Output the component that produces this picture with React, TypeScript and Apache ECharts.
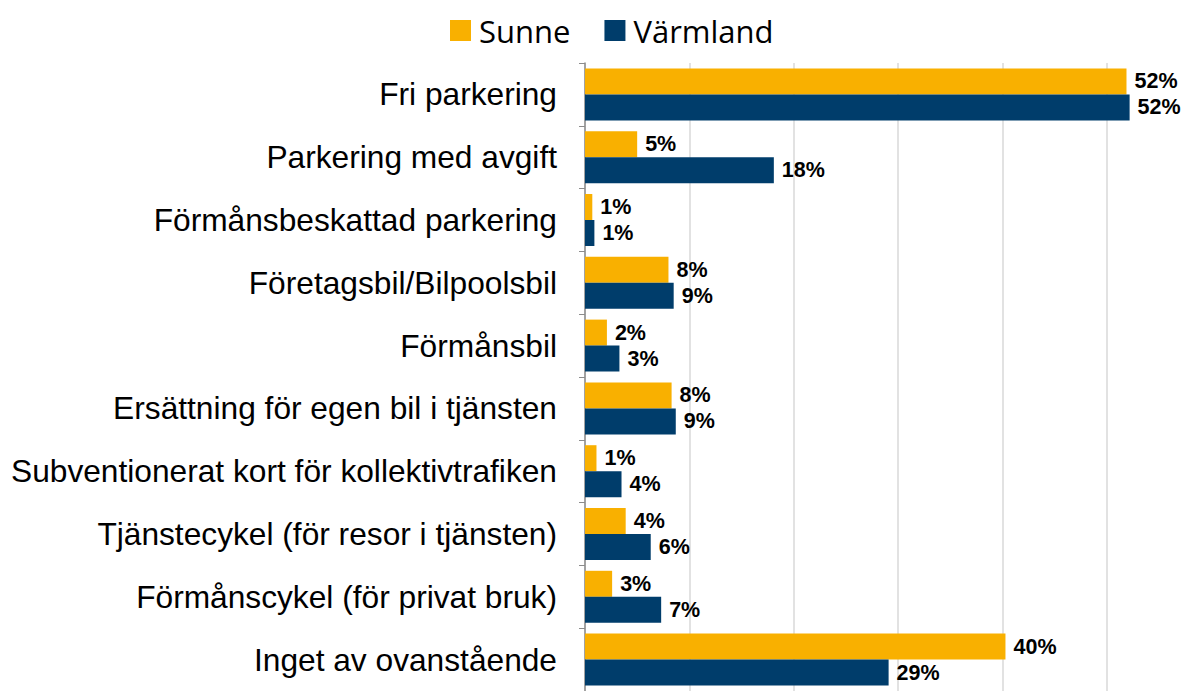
import React, { useEffect, useRef } from "react";
import * as echarts from "echarts";

const categories = [
  "Fri parkering",
  "Parkering med avgift",
  "Förmånsbeskattad parkering",
  "Företagsbil/Bilpoolsbil",
  "Förmånsbil",
  "Ersättning för egen bil i tjänsten",
  "Subventionerat kort för kollektivtrafiken",
  "Tjänstecykel (för resor i tjänsten)",
  "Förmånscykel (för privat bruk)",
  "Inget av ovanstående",
];
const sunne = [51.9, 5.0, 0.7, 8.0, 2.1, 8.3, 1.1, 3.9, 2.6, 40.3];
const varmland = [52.2, 18.1, 0.9, 8.5, 3.3, 8.7, 3.5, 6.3, 7.3, 29.1];
const seriesNames = ["Sunne", "Värmland"];
const colors = ["#F9B000", "#003D6B"];

export default function App() {
  const ref = useRef<HTMLDivElement>(null);
  useEffect(() => {
    document.body.style.margin = "0";
    document.body.style.overflow = "hidden";
    const chart = echarts.init(ref.current!, undefined, { renderer: "svg" });
    const label = {
      show: true,
      position: "right",
      distance: 8,
      fontFamily: "Liberation Sans",
      fontWeight: "bold",
      fontSize: 21.5,
      lineHeight: 22,
      color: "#000",
      formatter: (p: any) => Math.round(p.value) + "%",
    };
    chart.setOption({
      animation: false,
      legend: {
        top: 10,
        left: 445,
        itemWidth: 21,
        itemHeight: 21,
        itemGap: 34,
        icon: "rect",
        textStyle: { fontFamily: "Open Sans", fontSize: 31, color: "#000", padding: [0, 0, 0, 3] },
        data: seriesNames,
      },
      grid: { left: 585, right: 0, top: 63, bottom: -4, containLabel: false },
      xAxis: {
        type: "value",
        min: 0,
        max: 60,
        interval: 10,
        axisLabel: { show: false },
        axisLine: { show: false },
        axisTick: { show: false },
        splitLine: { show: true, lineStyle: { color: "#D9D9D9", width: 1.5 } },
      },
      yAxis: {
        type: "category",
        inverse: true,
        data: categories,
        axisLine: { show: true, lineStyle: { color: "#8C8C8C", width: 1.5 } },
        axisTick: { show: true, length: 6, lineStyle: { color: "#8C8C8C" } },
        axisLabel: {
          fontFamily: "Liberation Sans",
          fontSize: 31.7,
          color: "#000",
          margin: 28,
        },
      },
      series: [
        {
          name: seriesNames[0],
          type: "bar",
          data: sunne,
          barWidth: 26,
          barGap: "0%",
          itemStyle: { color: colors[0] },
          label,
        },
        {
          name: seriesNames[1],
          type: "bar",
          data: varmland,
          barWidth: 26,
          barGap: "0%",
          itemStyle: { color: colors[1] },
          label,
        },
      ],
    });
    return () => chart.dispose();
  }, []);
  return <div ref={ref} style={{ width: 1211, height: 691 }} />;
}
